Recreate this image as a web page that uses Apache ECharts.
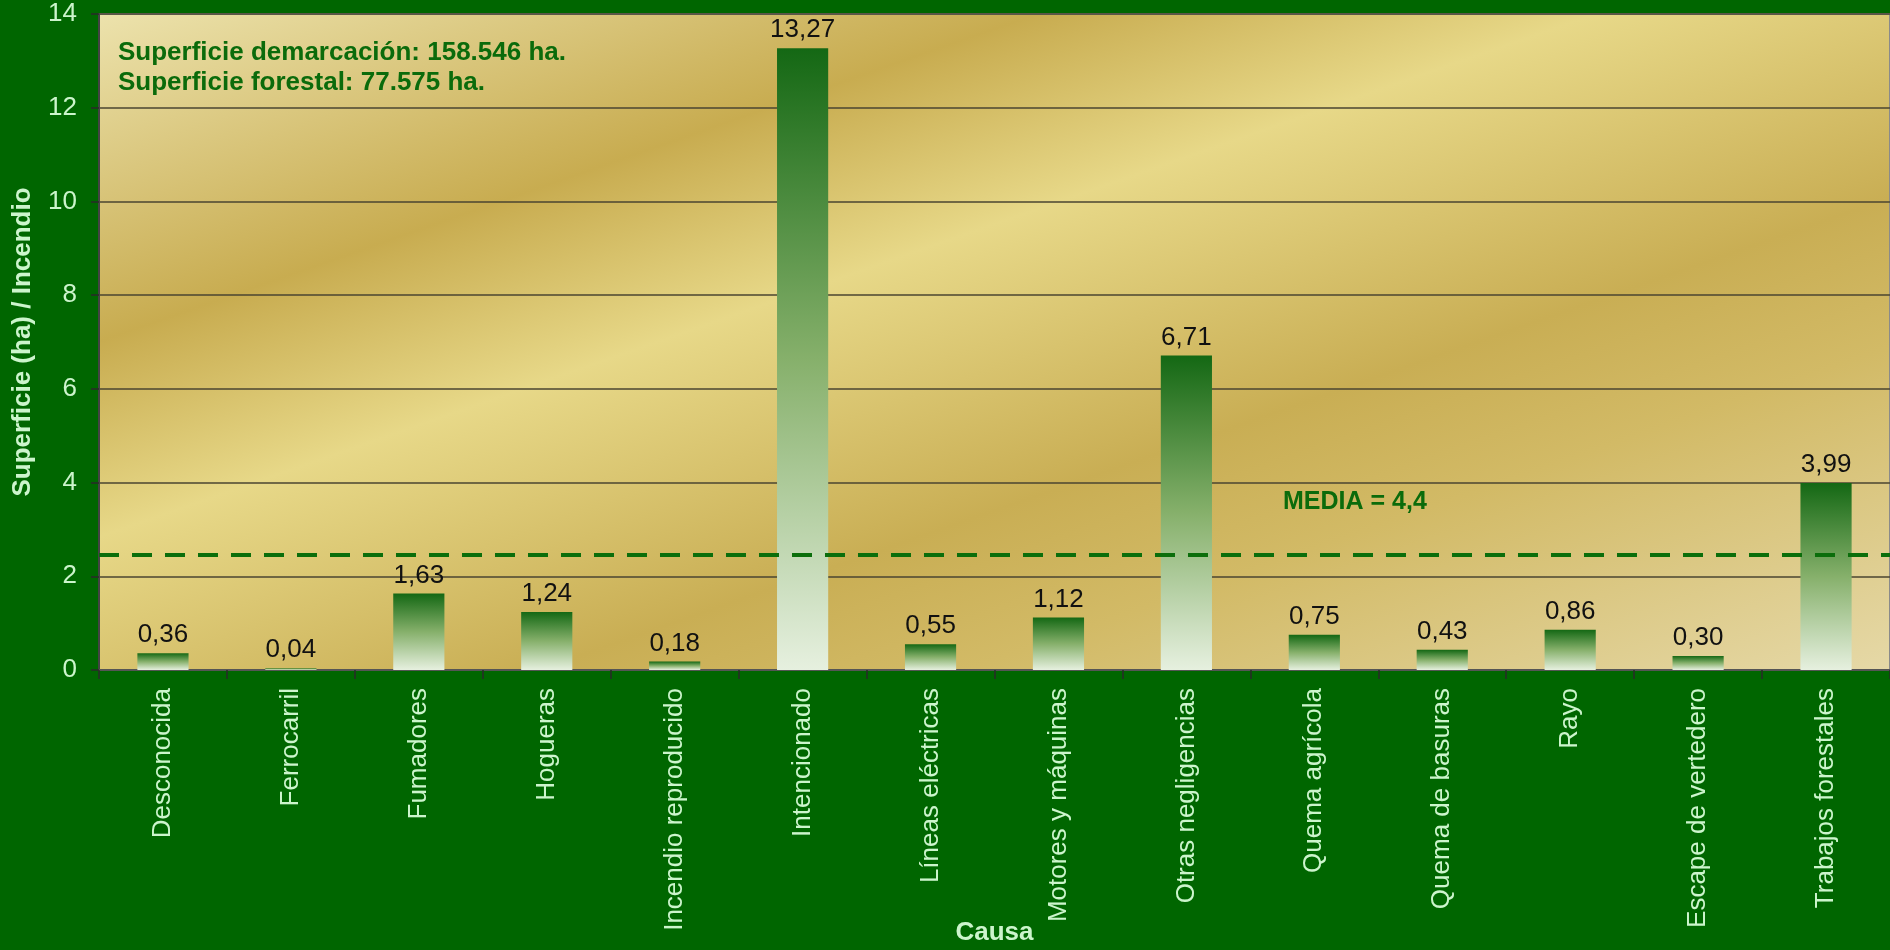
<!DOCTYPE html>
<html>
<head>
<meta charset="utf-8">
<script src="https://cdn.jsdelivr.net/npm/echarts@6/dist/echarts.min.js"></script>
<style>
html,body{margin:0;padding:0;background:#006600;}
#chart{width:1890px;height:950px;}
</style>
</head>
<body>
<div id="chart"></div>
<script>
const categories = ['Desconocida','Ferrocarril','Fumadores','Hogueras','Incendio reproducido','Intencionado','Líneas eléctricas','Motores y máquinas','Otras negligencias','Quema agrícola','Quema de basuras','Rayo','Escape de vertedero','Trabajos forestales'];
const values = [0.36, 0.04, 1.63, 1.24, 0.18, 13.27, 0.55, 1.12, 6.71, 0.75, 0.43, 0.86, 0.30, 3.99];
const mediaLine = 2.45;
const mediaText = 'MEDIA = 4,4';
const infoLines = ['Superficie demarcación: 158.546 ha.', 'Superficie forestal: 77.575 ha.'];
const yTicks = {min: 0, max: 14, interval: 2};

const FONT = '"Liberation Sans", Arial, sans-serif';
const chart = echarts.init(document.getElementById('chart'), null, {renderer: 'canvas'});

const bgGrad = new echarts.graphic.LinearGradient(100, 15, 500, 1160, [
  {offset: 0, color: '#ece2ac'},
  {offset: 0.254, color: '#c8ac50'},
  {offset: 0.406, color: '#e7d888'},
  {offset: 0.629, color: '#c9ae54'},
  {offset: 0.745, color: '#d2ba66'},
  {offset: 1, color: '#e6d9a8'}
], true);

const barGrad = new echarts.graphic.LinearGradient(0, 0, 0, 1, [
  {offset: 0, color: '#146814'},
  {offset: 0.5, color: '#86b06b'},
  {offset: 1, color: '#e6f0df'}
]);

chart.setOption({
  backgroundColor: '#006600',
  animation: false,
  grid: {
    left: 99, top: 14, right: 0, bottom: 280,
    outerBoundsMode: 'none',
    containLabel: false,
    show: true,
    backgroundColor: bgGrad,
    borderColor: '#8a8a8a',
    borderWidth: 2
  },
  xAxis: {
    type: 'category',
    data: categories,
    name: 'Causa',
    nameLocation: 'middle',
    nameGap: 250,
    nameMoveOverlap: false,
    nameTextStyle: {color: '#ccf5cc', fontSize: 26, fontWeight: 'bold', fontFamily: FONT},
    axisLine: {lineStyle: {color: '#555555', width: 2}},
    axisTick: {show: true, length: 9, lineStyle: {color: '#2a2a2a', width: 1.5}, alignWithLabel: false},
    axisLabel: {rotate: 90, color: '#ccf5cc', fontSize: 26, fontFamily: FONT, margin: 18, interval: 0}
  },
  yAxis: {
    type: 'value',
    min: yTicks.min, max: yTicks.max, interval: yTicks.interval,
    name: 'Superficie (ha) / Incendio',
    nameLocation: 'middle',
    nameGap: 63,
    nameMoveOverlap: false,
    nameTextStyle: {color: '#ccf5cc', fontSize: 26, fontWeight: 'bold', fontFamily: FONT},
    axisLine: {show: true, lineStyle: {color: '#444444', width: 2}},
    axisTick: {show: true, length: 8, lineStyle: {color: '#2a2a2a', width: 1.5}},
    axisLabel: {color: '#ccf5cc', fontSize: 26, fontFamily: FONT, margin: 22},
    splitLine: {show: true, lineStyle: {color: '#4a4430', width: 1.5}}
  },
  series: [{
    type: 'bar',
    data: values,
    barWidth: '40%',
    itemStyle: {color: barGrad},
    label: {
      show: true, position: 'top', distance: 5,
      color: '#111111', fontSize: 26, fontFamily: FONT,
      formatter: p => p.value.toFixed(2).replace('.', ',')
    },
    markLine: {
      silent: true,
      symbol: 'none',
      label: {show: false},
      lineStyle: {color: '#0b6e0b', width: 4, type: [20, 13]},
      data: [{yAxis: mediaLine}]
    }
  }],
  graphic: [
    {
      type: 'text', left: 118, top: 38, z: 100,
      style: {text: infoLines.join('\n'), fill: '#0b6b0b', font: 'bold 26px ' + FONT, lineHeight: 30}
    },
    {
      type: 'text', left: 1283, top: 490, z: 100,
      style: {text: mediaText, fill: '#0b6b0b', font: 'bold 25px ' + FONT}
    }
  ]
});
</script>
</body>
</html>
